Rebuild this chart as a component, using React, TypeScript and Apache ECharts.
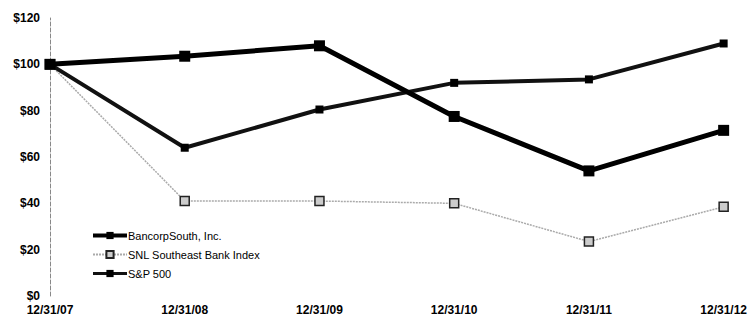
import React, { useEffect, useRef } from "react";
import * as echarts from "echarts";

const categories = ["12/31/07", "12/31/08", "12/31/09", "12/31/10", "12/31/11", "12/31/12"];
const bancorpSouth = [100, 103.5, 108, 77.5, 54, 71.5];
const snlSoutheast = [100, 41, 41, 40, 23.5, 38.5];
const sp500 = [100, 64, 80.5, 92, 93.5, 109];
const yTicks = { min: 0, max: 120, interval: 20 };

export default function App() {
  const ref = useRef<HTMLDivElement>(null);
  useEffect(() => {
    const chart = echarts.init(ref.current!, null, { renderer: "svg" });
    const font = "'Liberation Sans', Arial, sans-serif";
    chart.setOption({
      animation: false,
      backgroundColor: "#fff",
      grid: { left: 50, right: 25, top: 18, bottom: 21, containLabel: false },
      legend: {
        orient: "vertical",
        left: 86,
        top: 225,
        itemWidth: 34,
        itemHeight: 9,
        itemGap: 8,
        textStyle: { fontFamily: font, fontSize: 11, color: "#000", padding: [0, 0, 0, -4] },
        data: [
          { name: "BancorpSouth, Inc.", lineStyle: { width: 4 } },
          { name: "SNL Southeast Bank Index", lineStyle: { width: 2 } },
          { name: "S&P 500", lineStyle: { width: 3 } },
        ],
      },
      xAxis: {
        type: "category",
        data: categories,
        boundaryGap: false,
        axisLine: { show: false },
        axisTick: { show: false },
        axisLabel: {
          fontFamily: font,
          fontSize: 12,
          fontWeight: "bold",
          color: "#000",
          margin: 8,
          interval: 0,
        },
        splitLine: { show: false },
      },
      yAxis: {
        type: "value",
        min: yTicks.min,
        max: yTicks.max,
        interval: yTicks.interval,
        axisLine: { show: true, lineStyle: { color: "#888", type: [4, 2], width: 1 } },
        axisTick: { show: false },
        splitLine: { show: false },
        axisLabel: {
          formatter: (v: number) => "$" + v,
          fontFamily: font,
          fontSize: 12,
          fontWeight: "bold",
          color: "#000",
          margin: 10,
        },
      },
      series: [
        {
          name: "BancorpSouth, Inc.",
          type: "line",
          data: bancorpSouth,
          symbol: "rect",
          symbolSize: 11,
          lineStyle: { color: "#000", width: 5 },
          itemStyle: { color: "#000" },
          z: 4,
        },
        {
          name: "SNL Southeast Bank Index",
          type: "line",
          data: snlSoutheast,
          symbol: "rect",
          symbolSize: 9,
          lineStyle: { color: "#aaa", width: 1.5, type: [2, 1] },
          itemStyle: { color: "#ccc", borderColor: "#222", borderWidth: 1.5 },
          z: 2,
        },
        {
          name: "S&P 500",
          type: "line",
          data: sp500,
          symbol: "rect",
          symbolSize: 8,
          lineStyle: { color: "#111", width: 4 },
          itemStyle: { color: "#000" },
          z: 3,
        },
      ],
    });
    return () => chart.dispose();
  }, []);
  return <div ref={ref} style={{ width: 750, height: 317, position: "absolute", left: 0, top: 0 }} />;
}
